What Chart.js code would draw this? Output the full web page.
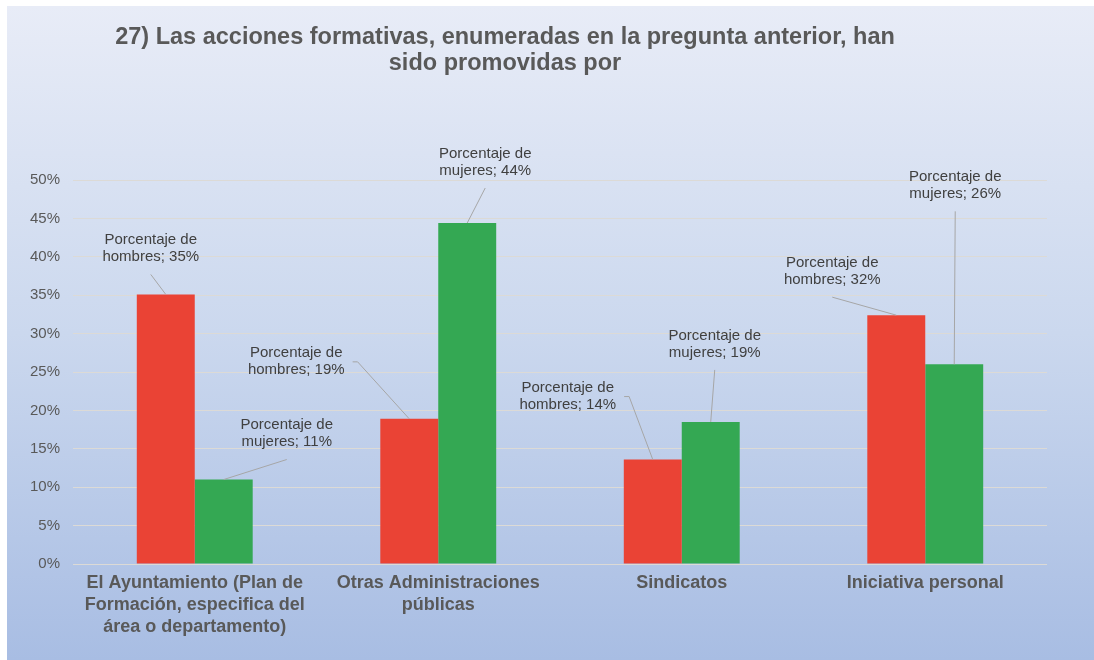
<!DOCTYPE html>
<html>
<head>
<meta charset="utf-8">
<script src="https://cdn.jsdelivr.net/npm/chart.js@4.4.0/dist/chart.umd.min.js"></script>
<style>
  html, body { margin: 0; padding: 0; background: #ffffff; }
  #wrap {
    position: absolute; left: 7px; top: 6px; width: 1087px; height: 654px;
    background: linear-gradient(to bottom, #e8ecf7 0%, #cbd8ee 50%, #a8bde3 100%);
  }
  canvas { display: block; }
</style>
</head>
<body>
<div id="wrap"><canvas id="chart" width="1087" height="654"></canvas></div>
<script>
// Chart data
const categories = [
    ['El Ayuntamiento (Plan de', 'Formación, especifica del', 'área o departamento)'],
    ['Otras Administraciones', 'públicas'],
    'Sindicatos',
    'Iniciativa personal'
];
const seriesNames = ['hombres', 'mujeres'];
const hombres = [35.1, 18.9, 13.6, 32.4];
const mujeres = [11.0, 44.4, 18.5, 26.0];
const yTicks = [0, 5, 10, 15, 20, 25, 30, 35, 40, 45, 50];
const titleLines = ['27) Las acciones formativas, enumeradas en la pregunta anterior, han', 'sido promovidas por'];

// label offsets from the top of each bar (text centre), per series
const labelOffsets = [
    [[-15, -46], [-113, -57], [-85, -63], [-64, -44]],
    [[63, -46], [18, -61], [4, -78], [1, -179]]
];

const FONT = "'Liberation Sans', Arial, sans-serif";

// Title drawn off-centre like the original
const titlePlugin = {
    id: 'offTitle',
    afterDraw(chart) {
        const ctx = chart.ctx;
        ctx.save();
        ctx.font = 'bold 23.5px ' + FONT;
        ctx.fillStyle = '#595959';
        ctx.textAlign = 'center';
        ctx.textBaseline = 'middle';
        titleLines.forEach((t, i) => ctx.fillText(t, 498, 32 + i * 26));
        ctx.restore();
    }
};

// Data labels with leader lines
const calloutPlugin = {
    id: 'callouts',
    afterDatasetsDraw(chart) {
        const ctx = chart.ctx;
        ctx.save();
        ctx.font = '15px ' + FONT;
        chart.data.datasets.forEach((ds, i) => {
            const meta = chart.getDatasetMeta(i);
            meta.data.forEach((bar, j) => {
                const off = labelOffsets[i][j];
                const cx = bar.x + off[0], cy = bar.y + off[1];
                const l1 = 'Porcentaje de';
                const l2 = seriesNames[i] + '; ' + Math.round(ds.data[j]) + '%';
                // leader
                ctx.strokeStyle = '#a6a6a6';
                ctx.lineWidth = 1;
                ctx.beginPath();
                if (Math.abs(off[0]) > 80) {
                    const w = Math.max(ctx.measureText(l1).width, ctx.measureText(l2).width);
                    const sx = cx + w / 2 + 8;
                    ctx.moveTo(sx, cy);
                    ctx.lineTo(sx + 5, cy);
                } else {
                    ctx.moveTo(cx, cy + 26);
                }
                ctx.lineTo(bar.x, bar.y);
                ctx.stroke();
                // text
                ctx.fillStyle = '#404040';
                ctx.textAlign = 'center';
                ctx.textBaseline = 'middle';
                ctx.fillText(l1, cx, cy - 8.5);
                ctx.fillText(l2, cx, cy + 8.5);
            });
        });
        ctx.restore();
    }
};

new Chart(document.getElementById('chart').getContext('2d'), {
    type: 'bar',
    data: {
        labels: categories,
        datasets: [
            { label: 'Porcentaje de hombres', data: hombres, backgroundColor: '#ea4335', categoryPercentage: 0.476, barPercentage: 1.0 },
            { label: 'Porcentaje de mujeres', data: mujeres, backgroundColor: '#34a853', categoryPercentage: 0.476, barPercentage: 1.0 }
        ]
    },
    options: {
        responsive: false,
        animation: false,
        layout: { padding: { left: 0, top: 174, right: 47, bottom: 0 } },
        plugins: {
            legend: { display: false },
            tooltip: { enabled: false }
        },
        scales: {
            x: {
                grid: { display: false, drawTicks: false },
                border: { display: false },
                ticks: {
                    color: '#595959',
                    font: { family: FONT, size: 18, weight: 'bold', lineHeight: 22 / 18 },
                    padding: 8,
                    maxRotation: 0,
                    autoSkip: false
                },
                afterFit(scale) { scale.height = 96; }
            },
            y: {
                min: 0,
                max: 50,
                afterBuildTicks(scale) { scale.ticks = yTicks.map(v => ({ value: v })); },
                grid: { color: '#dcdad6', drawTicks: false },
                border: { display: false },
                ticks: {
                    color: '#595959',
                    font: { family: FONT, size: 15 },
                    padding: 13,
                    callback: v => v + '%'
                },
                afterFit(scale) { scale.width = 66; }
            }
        }
    },
    plugins: [titlePlugin, calloutPlugin]
});
</script>
</body>
</html>
